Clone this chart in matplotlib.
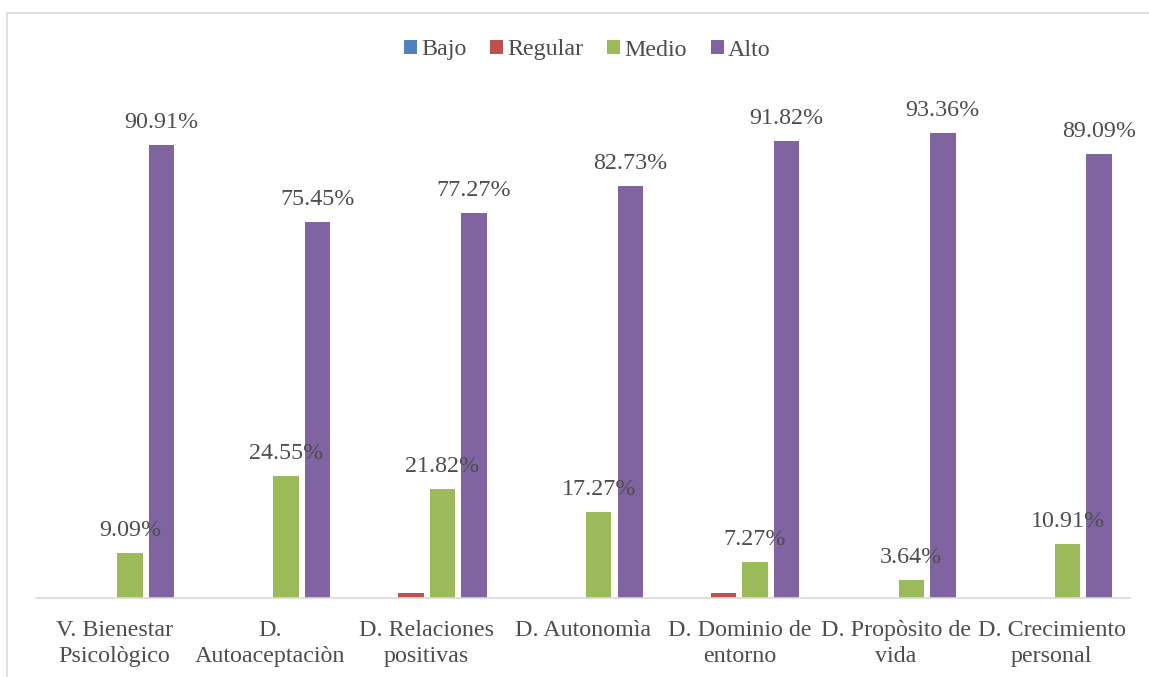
import matplotlib
matplotlib.use("Agg")
import matplotlib.pyplot as plt
import numpy as np
from matplotlib.patches import Rectangle

categories = ["V. Bienestar\nPsicològico", "D.\nAutoaceptaciòn", "D. Relaciones\npositivas",
              "D. Autonomìa", "D. Dominio de\nentorno", "D. Propòsito de\nvida", "D. Crecimiento\npersonal"]
series_names = ["Bajo", "Regular", "Medio", "Alto"]
bajo = [0, 0, 0, 0, 0, 0, 0]
regular = [0, 0, 0.91, 0, 0.91, 0, 0]
medio = [9.09, 24.55, 21.82, 17.27, 7.27, 3.64, 10.91]
alto = [90.91, 75.45, 77.27, 82.73, 91.82, 93.36, 89.09]
colors = ["#4F81BD", "#C0504D", "#9BBB59", "#8064A2"]

plt.rcParams['font.family'] = ['Liberation Serif', 'DejaVu Serif']
txt = "#4D4D4D"
fs = 17.3

W, H = 1149, 677
fig = plt.figure(figsize=(W/100, H/100), dpi=100)
ax = fig.add_axes([36/W, 1-598/H, (1130-36)/W, 498/H])

x = np.arange(len(categories))
bw = 0.163
step = 0.2015
data = [bajo, regular, medio, alto]
for i, (vals, c, name) in enumerate(zip(data, colors, series_names)):
    off = (i - 1.5) * step
    bars = ax.bar(x + off, vals, width=bw, color=c, label=name)
    if name in ("Medio", "Alto"):
        for xi, v in zip(x, vals):
            if v > 0:
                ax.text(xi + off, v + 4.5, f"{v:.2f}%", ha='center', va='center',
                        fontsize=fs, color=txt)

ax.set_xlim(-0.5, len(categories) - 0.5)
ax.set_ylim(0, 100)
ax.set_xticks(x)
ax.set_xticklabels(categories, fontsize=fs, color=txt, linespacing=1.3)
ax.tick_params(axis='x', length=0, pad=16)
ax.set_yticks([])
for s in ['top', 'right', 'left']:
    ax.spines[s].set_visible(False)
ax.spines['bottom'].set_color('#D9D9D9')
ax.spines['bottom'].set_linewidth(1.2)

leg = fig.legend(loc='center', bbox_to_anchor=(587/W, 1-50/H), ncol=4, frameon=False,
                 fontsize=fs, handlelength=0.55, handleheight=0.55, handletextpad=0.15,
                 columnspacing=1.0)
for t in leg.get_texts():
    t.set_color(txt)

fig.patches.append(Rectangle((7/W, -0.05), 1.2, 1 - 13/H + 0.05, transform=fig.transFigure,
                             fill=False, edgecolor='#D9D9D9', linewidth=1.2))

fig.savefig("out.png", dpi=100)
